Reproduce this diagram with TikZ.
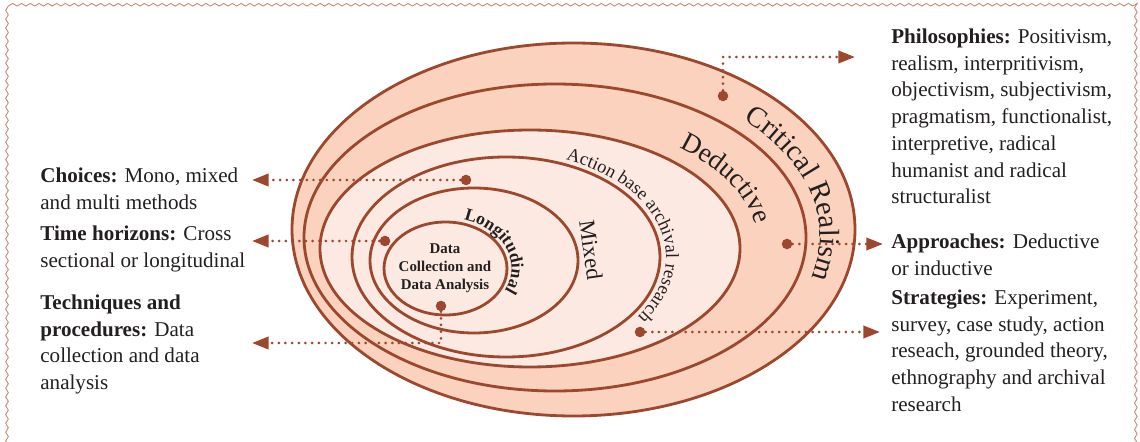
\documentclass[tikz,border=0pt]{standalone}
\usepackage{fontspec}
\setmainfont{Liberation Serif}
\usetikzlibrary{arrows.meta,decorations.text,decorations.pathmorphing}

\definecolor{rust}{RGB}{156,72,46}
\definecolor{peach}{RGB}{251,210,190}
\definecolor{blush}{RGB}{252,234,226}
\definecolor{framecol}{RGB}{200,135,115}
\definecolor{ink}{RGB}{35,31,32}

\tikzset{
  ring/.style={draw=rust, line width=1.6pt},
  spot/.style={circle, fill=rust, inner sep=0pt, minimum size=6pt},
  link/.style={rust, line width=1.7pt, line cap=round, dash pattern=on 0pt off 3.8pt,
    -{Triangle[length=9.5pt,width=7pt]}},
  info/.style={anchor=north west, align=left, inner sep=0pt, text=ink,
    font=\fontsize{12}{15.2}\selectfont},
}

\begin{document}
\begin{tikzpicture}[x=0.02cm, y=-0.02cm]
  \useasboundingbox (0,0) rectangle (1140,442);
  % wavy frame
  \draw[framecol, line width=0.5pt, decorate,
    decoration={snake, amplitude=0.75pt, segment length=5pt}]
    (7,470) -- (7,10) -- (1138,10) -- (1138,470);

  % the onion
  \foreach \cx/\cy/\rx/\ry/\tone in {573.5/229.5/281.5/186.5/peach,
      555/237.5/251/153.5/peach, 530/248.5/210/118.5/blush,
      506/257/154/100/blush, 474/260.5/104/72.5/blush,
      445.5/268.5/61.5/46.5/blush}
  {   \draw[ring, fill=\tone] (\cx,\cy) ellipse [x radius=\rx, y radius=\ry];
  }

  % layer names
  \path[decorate, decoration={text along path, text color=ink,
      text={|\fontsize{16.5}{18}\selectfont|Critical Realism}}]
    ([shift={(-45:262 and 165)}]558,236) arc [start angle=-45, end angle=40, x radius=262, y radius=165];
  \path[decorate, decoration={text along path, text color=ink,
      text={|\fontsize{15.5}{18}\selectfont|Deductive}}]
    ([shift={(-50:224 and 128)}]535,246) arc [start angle=-50, end angle=30, x radius=224, y radius=128];
  \path[decorate, decoration={text along path, text color=ink,
      text={|\fontsize{10.5}{12}\selectfont|Action base archival research}}]
    ([shift={(-68:160 and 105)}]506,257) arc [start angle=-68, end angle=75, x radius=160, y radius=105];
  \path[decorate, decoration={text along path, text color=ink,
      text={|\fontsize{10}{12}\selectfont\bfseries|Longitudinal}}]
    ([shift={(-74:66 and 51)}]445.5,268.5) arc [start angle=-74, end angle=40, x radius=66, y radius=51];
  \node[rotate=-82, text=ink, font=\fontsize{13}{15}\selectfont] (mixed) at (591,250) {Mixed};
  \node[align=center, text=ink, font=\fontsize{8.5}{10.2}\selectfont\bfseries] (core) at (445,268)
    {Data\\Collection and\\Data Analysis};

  % dots
  \node[spot] (dphil) at (723,96) {};
  \node[spot] (dappr) at (787,244) {};
  \node[spot] (dstrat) at (640,332) {};
  \node[spot] (dchoice) at (466,180) {};
  \node[spot] (dtime) at (385,241) {};
  \node[spot] (dtech) at (441,306) {};

  \coordinate (tphil) at (855,57);
  \coordinate (tappr) at (883,244);
  \coordinate (tstrat) at (880,332);
  \coordinate (tchoice) at (252,180);
  \coordinate (ttime) at (252,241);
  \coordinate (ttech) at (252,343);

  \draw[link] (dphil) |- (tphil);
  \draw[link] (dappr) -- (tappr);
  \draw[link] (dstrat) -- (tstrat);
  \draw[link] (dchoice) -- (tchoice);
  \draw[link] (dtime) -- (ttime);
  \draw[link] (dtech) |- (ttech);

  % side texts
  \node[info] (phil) at (891,28.5) {\textbf{Philosophies:} Positivism,\\realism, interpritivism,\\objectivism, subjectivism,\\pragmatism, functionalist,\\interpretive, radical\\humanist and radical\\structuralist};
  \node[info] (appr) at (891,233.5) {\textbf{Approaches:} Deductive\\or inductive};
  \node[info] (strat) at (891,289.5) {\textbf{Strategies:} Experiment,\\survey, case study, action\\reseach, grounded theory,\\ethnography and archival\\research};
  \node[info] (choice) at (40,167.5) {\textbf{Choices:} Mono, mixed\\and multi methods};
  \node[info] (time) at (40,225.5) {\textbf{Time horizons:} Cross\\sectional or longitudinal};
  \node[info] (tech) at (40,294.5) {\textbf{Techniques and}\\\textbf{procedures:} Data\\collection and data\\analysis};
\end{tikzpicture}
\end{document}
